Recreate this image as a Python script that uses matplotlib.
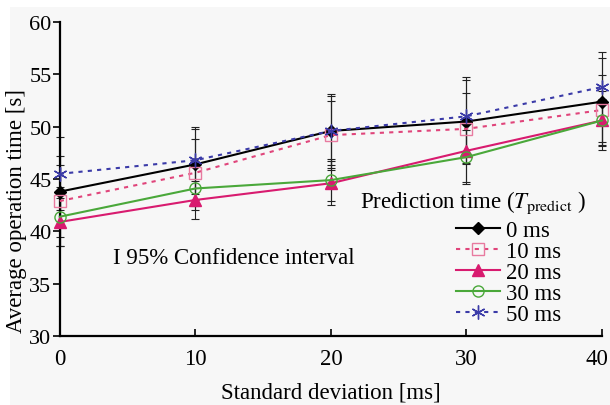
import numpy as np
import matplotlib.pyplot as plt
import matplotlib.transforms as mtransforms
from matplotlib.patches import Rectangle

# Data
std_dev = [0, 10, 20, 30, 40]
labels = ['0 ms', '10 ms', '20 ms', '30 ms', '50 ms']

t_0 = [43.8, 46.4, 49.6, 50.5, 52.4]
t_10 = [42.9, 45.6, 49.2, 49.8, 51.6]
t_20 = [40.9, 43.0, 44.6, 47.7, 50.6]
t_30 = [41.4, 44.1, 44.9, 47.1, 50.6]
t_50 = [45.5, 46.8, 49.6, 51.0, 53.8]

err_0 = [3.4, 3.4, 3.5, 4.0, 4.2]
err_10 = [3.4, 3.2, 3.3, 3.4, 3.3]
err_20 = [2.3, 1.8, 2.1, 3.0, 2.8]
err_30 = [2.8, 2.1, 2.0, 2.6, 2.1]
err_50 = [3.5, 3.2, 3.3, 3.8, 3.3]

series = [t_0, t_10, t_20, t_30, t_50]
errors = [err_0, err_10, err_20, err_30, err_50]

plt.rcParams['font.family'] = ['Liberation Serif', 'DejaVu Serif']
plt.rcParams['mathtext.fontset'] = 'stix'

bg = '#f7f7f7'
fig = plt.figure(figsize=(6.1, 4.06), dpi=100, facecolor='white')
# light grey page area, white strip on top and left like the scan
fig.patches.append(Rectangle((10 / 610, 0), 1, 1 - 8 / 406, transform=fig.transFigure,
                             facecolor=bg, edgecolor='none', zorder=-10))
ax = fig.add_axes([0.098, 0.17, 0.889, 0.773])
ax.set_facecolor(bg)

# error bars first (black, thin)
for vals, err in zip(series, errors):
    ax.errorbar(std_dev, vals, yerr=err, fmt='none', ecolor='#222222',
                elinewidth=0.8, capsize=3, capthick=0.8, clip_on=False, zorder=2)

styles = [
    dict(color='black', linestyle='-', marker='D', markersize=6,
         markerfacecolor='black', markeredgecolor='black'),
    dict(color='#e0457b', linestyle=(0, (2, 2.5)), marker='s', markersize=8,
         markerfacecolor='none', markeredgecolor='#e87aa0'),
    dict(color='#d81b6f', linestyle='-', marker='^', markersize=8,
         markerfacecolor='#d81b6f', markeredgecolor='#d81b6f'),
    dict(color='#4aa83a', linestyle='-', marker='o', markersize=8,
         markerfacecolor='none', markeredgecolor='#4aa83a'),
    dict(color='#3b3ba8', linestyle=(0, (2, 2.5)), marker=(6, 2, 0), markersize=10,
         markerfacecolor='none', markeredgecolor='#3b3ba8'),
]
for vals, lab, st in zip(series, labels, styles):
    ax.plot(std_dev, vals, label=lab, linewidth=1.5, markeredgewidth=1.0,
            clip_on=False, zorder=3, **st)

ax.set_xlim(0, 40)
ax.set_ylim(30, 60)
ax.set_xticks([0, 10, 20, 30, 40])
ax.set_yticks([30, 35, 40, 45, 50, 55, 60])
ax.spines['top'].set_visible(False)
ax.spines['right'].set_visible(False)
ax.spines['left'].set_linewidth(1.6)
ax.spines['bottom'].set_linewidth(1.6)
ax.tick_params(axis='y', direction='out', length=5, width=1.2, labelsize=16, pad=1)
ax.tick_params(axis='x', direction='in', length=5, width=1.2, labelsize=16.5, pad=9)

# nudge the last x tick label so it stays inside the picture
last = ax.get_xticklabels()[-1]
last.set_transform(last.get_transform() +
                   mtransforms.ScaledTranslation(-5 / 100, 0, fig.dpi_scale_trans))

ax.set_xlabel('Standard deviation [ms]', fontsize=16.5, labelpad=9)
ax.set_ylabel('Average operation time [s]', fontsize=16.5, labelpad=0)
ax.yaxis.set_label_coords(-0.06, 0.40)

ax.text(0.098, 0.25, 'I 95% Confidence interval', transform=ax.transAxes,
        fontsize=16.5, va='center', ha='left')

fig.text(473 / 610, 1 - 203 / 406, r'Prediction time ($T_{\mathrm{predict}}$ )',
         fontsize=16.5, ha='center', va='center')
ax.legend(loc='upper left', bbox_to_anchor=(456 / 610, 1 - 221 / 406),
          bbox_transform=fig.transFigure, frameon=False,
          fontsize=16.5, handlelength=1.9, handletextpad=0.3, labelspacing=0.0,
          borderpad=0, borderaxespad=0)

fig.savefig('out.png', dpi=100, facecolor=fig.get_facecolor())
